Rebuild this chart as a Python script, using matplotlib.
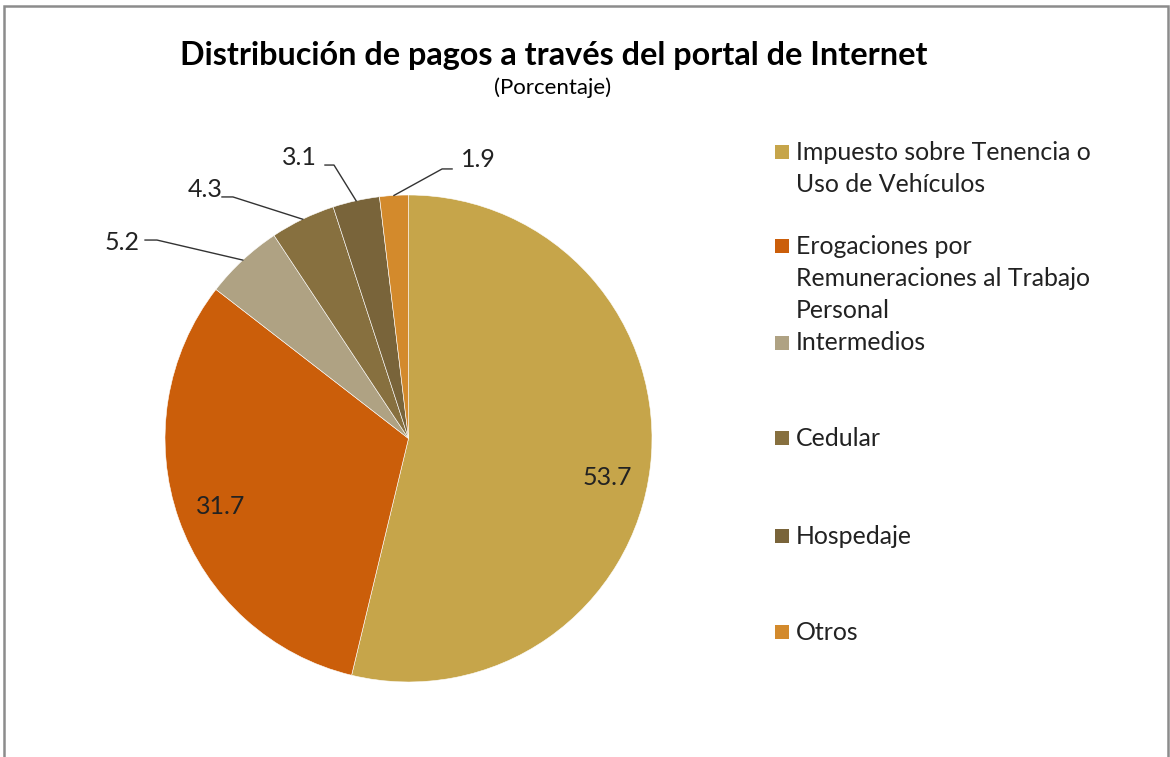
import numpy as np
import matplotlib
matplotlib.use('Agg')
import matplotlib.pyplot as plt
from matplotlib.patches import Rectangle

plt.rcParams['font.family'] = ['Lato', 'DejaVu Sans']

# data
categories = [['Impuesto sobre Tenencia o', 'Uso de Vehículos'],
              ['Erogaciones por', 'Remuneraciones al Trabajo', 'Personal'],
              ['Intermedios'], ['Cedular'], ['Hospedaje'], ['Otros']]
values = [53.7, 31.7, 5.2, 4.3, 3.1, 1.9]
value_labels = ['53.7', '31.7', '5.2', '4.3', '3.1', '1.9']
colors = ['#C6A54A', '#CB5E0A', '#AFA283', '#87703F', '#79643A', '#D38A2C']

W, H = 1170, 757
fig = plt.figure(figsize=(W / 100, H / 100), dpi=100)

# pie axes: centre (408.5, 438.5) px, radius 243.5 px
cx, cy, r = 408.5, 438.5, 243.5
ax = fig.add_axes([(cx - r) / W, (H - cy - r) / H, 2 * r / W, 2 * r / H])
wedges, _ = ax.pie(values, colors=colors, startangle=90, counterclock=False,
                   radius=1.0, wedgeprops=dict(edgecolor='white', linewidth=0.4))
ax.set_xlim(-1, 1)
ax.set_ylim(-1, 1)
ax.set_aspect('equal')
ax.axis('off')

lbl_size = 18

# inside labels for the two large slices
inside_pos = {0: (0.815, -0.16), 1: (-0.77, -0.28)}
for i, (x, y) in inside_pos.items():
    ax.text(x, y, value_labels[i], ha='center', va='center', fontsize=lbl_size,
            color='#222222')

# outside labels with leader lines (elbow = end of horizontal segment)
outside = {
    2: dict(text=(-1.176, 0.803), elbow=(-1.033, 0.815), start=(-1.082, 0.815)),
    3: dict(text=(-0.836, 1.021), elbow=(-0.721, 0.992), start=(-0.766, 0.992)),
    4: dict(text=(-0.446, 1.152), elbow=(-0.306, 1.123), start=(-0.343, 1.123)),
    5: dict(text=(0.285, 1.144), elbow=(0.138, 1.107), start=(0.179, 1.107)),
}
for i, o in outside.items():
    w = wedges[i]
    mid = np.deg2rad((w.theta1 + w.theta2) / 2)
    ex, ey = np.cos(mid), np.sin(mid)
    ax.plot([o['start'][0], o['elbow'][0], ex], [o['start'][1], o['elbow'][1], ey],
            color='#333333', linewidth=1.0, clip_on=False)
    ax.text(o['text'][0], o['text'][1], value_labels[i], ha='center', va='center',
            fontsize=lbl_size, color='#222222', clip_on=False)

# title
fig.text(554 / W, 1 - 55 / H, 'Distribución de pagos a través del portal de Internet',
         ha='center', va='center', fontsize=23.3, fontweight='bold', color='black')
fig.text(553 / W, 1 - 88 / H, '(Porcentaje)', ha='center', va='center',
         fontsize=16, color='black')

# legend, placed by hand like the original
leg_y = [152, 246, 343, 438, 536, 632]
line_h = 32
for lines, col, y in zip(categories, colors, leg_y):
    fig.patches.append(Rectangle((775 / W, 1 - (y + 7) / H), 14 / W, 14 / H,
                                 transform=fig.transFigure, facecolor=col,
                                 edgecolor='none'))
    for k, txt in enumerate(lines):
        fig.text(796 / W, 1 - (y + k * line_h) / H, txt, ha='left', va='center',
                 fontsize=17.9, color='#222222')

# outer frame
fig.patches.append(Rectangle((3.5 / W, -0.1), 1164.5 / W, 1.1 - 6.5 / H,
                             transform=fig.transFigure, facecolor='none',
                             edgecolor='#8c8c8c', linewidth=1.8, clip_on=False))

fig.savefig('out.png', dpi=100)
